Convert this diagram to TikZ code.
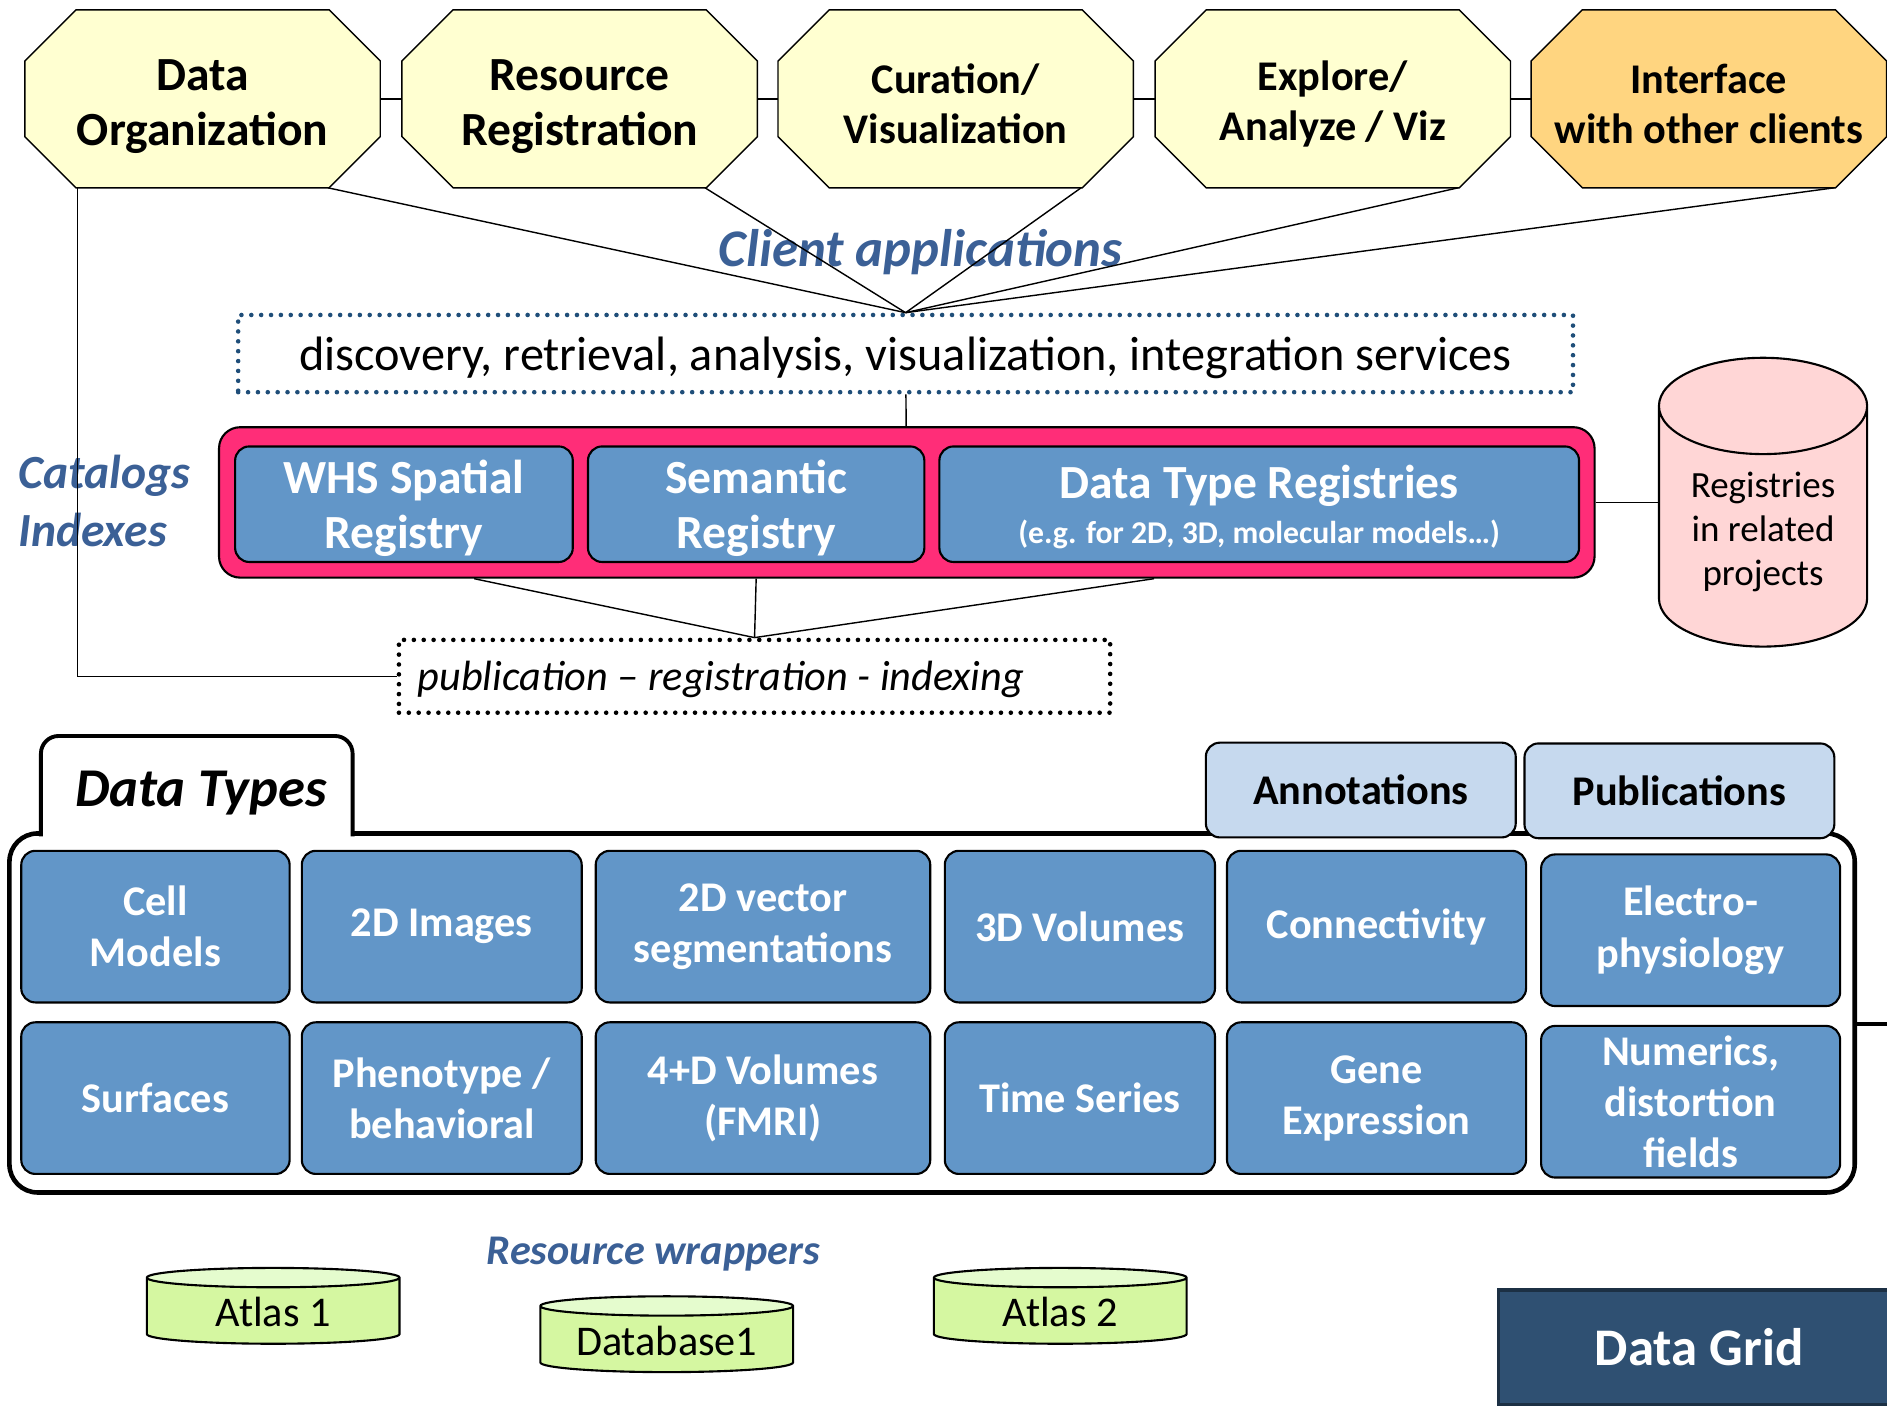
\documentclass[tikz,border=0pt]{standalone}
\usepackage{fontspec}
\setmainfont{Carlito}
\usepackage{tikz}
\usetikzlibrary{positioning,calc,shapes.geometric}
\definecolor{OctYellow}{RGB}{255,255,209}
\definecolor{OctOrange}{RGB}{255,213,128}
\definecolor{LabelBlue}{RGB}{59,96,150}
\definecolor{DotBlue}{RGB}{31,78,121}
\definecolor{CatPink}{RGB}{255,45,120}
\definecolor{RegBlue}{RGB}{98,150,200}
\definecolor{CylPink}{RGB}{255,214,214}
\definecolor{TabBlue}{RGB}{198,217,238}
\definecolor{AtlasGreen}{RGB}{213,247,161}
\definecolor{AtlasTop}{RGB}{229,252,206}
\definecolor{GridNavy}{RGB}{47,80,114}
\tikzset{
	octa/.style={minimum width=3.53cm,minimum height=1.76cm},
	octtext/.style={align=center,font=\bfseries\fontsize{13.5}{15.7}\selectfont},
	octtextb/.style={align=center,font=\bfseries\fontsize{12}{14.3}\selectfont},
	lbl/.style={text=LabelBlue,font=\bfseries\itshape\fontsize{15}{18}\selectfont,inner sep=0pt},
	dotbox/.style={draw,line width=1.3pt,line cap=round,dash pattern=on 0pt off 2.8pt},
	reg/.style={draw,line width=0.6pt,fill=RegBlue,rounded corners=4pt,text=white,align=center,minimum height=1.152cm,text depth=0pt,font=\bfseries\fontsize{13.5}{15.7}\selectfont},
	dtype/.style={draw,line width=0.6pt,fill=RegBlue,rounded corners=4pt,text=white,align=center,minimum height=1.512cm,font=\bfseries\fontsize{12}{14.5}\selectfont},
	tabbox/.style={draw,line width=0.6pt,fill=TabBlue,rounded corners=4pt,minimum width=3.09cm,minimum height=0.945cm,font=\bfseries\fontsize{12}{14.5}\selectfont},
	store/.style={cylinder,shape border rotate=90,aspect=0.085,draw,line width=0.6pt,cylinder uses custom fill,cylinder body fill=AtlasGreen,cylinder end fill=AtlasTop,minimum width=2.52cm,minimum height=0.756cm,inner sep=1pt,text width=2.2cm,align=flush center,font=\fontsize{12}{14}\selectfont}
}
\newcommand{\octshape}[2]{%
	\filldraw[fill=#2] ($(#1.north west)+(0.51,0)$) -- ($(#1.north east)+(-0.51,0)$) -- ($(#1.north east)+(0,-0.51)$) -- ($(#1.south east)+(0,0.51)$) -- ($(#1.south east)+(-0.51,0)$) -- ($(#1.south west)+(0.51,0)$) -- ($(#1.south west)+(0,0.51)$) -- ($(#1.north west)+(0,-0.51)$) -- cycle;}

\begin{document}
\begin{tikzpicture}
	\useasboundingbox (0,0) rectangle (18.816,14.016);
	\node[octa] (dorg) at (2.02,13.03) {};
	\node[octa] (resreg) at (5.78,13.03) {};
	\node[octa] (curvis) at (9.53,13.03) {};
	\node[octa] (explore) at (13.29,13.03) {};
	\node[octa] (iface) at (17.04,13.03) {};
	\octshape{dorg}{OctYellow}
	\octshape{resreg}{OctYellow}
	\octshape{curvis}{OctYellow}
	\octshape{explore}{OctYellow}
	\octshape{iface}{OctOrange}
	\node[octtext] (dorgtxt) at ([yshift=-0.08cm]dorg.center) {Data\\Organization};
	\node[octtext] (resregtxt) at ([yshift=-0.08cm]resreg.center) {Resource\\Registration};
	\node[octtextb] (curvistxt) at ([yshift=-0.05cm]curvis.center) {Curation/\\Visualization};
	\node[octtextb] (exploretxt) at ([yshift=-0.05cm]explore.center) {Explore/\\Analyze / Viz};
	\node[octtextb] (ifacetxt) at ([yshift=-0.05cm]iface.center) {Interface\\with other clients};
	\draw (dorg) -- (resreg);
	\draw (resreg) -- (curvis);
	\draw (curvis) -- (explore);
	\draw (explore) -- (iface);

	\node[lbl] (client) at (9.18,11.5) {Client applications};
	\node[dotbox,draw=DotBlue,minimum width=13.31cm,minimum height=0.77cm,text depth=0pt,font=\fontsize{13.7}{16}\selectfont] (svc) at (9.03,10.49) {discovery, retrieval, analysis, visualization, integration services};
	\foreach \n in {dorg,resreg,curvis,explore,iface}
		\draw ($(\n.south)+(1.25,0)$) -- (svc.north);

	\node[draw,line width=0.6pt,fill=CatPink,rounded corners=6pt,minimum width=13.716cm,minimum height=1.5cm] (catalog) at (9.042,9.006) {};
	\node[reg,minimum width=3.367cm] (whs) at (4.028,8.988) {WHS Spatial\\Registry};
	\node[reg,minimum width=3.354cm] (sem) at (7.54,8.988) {Semantic\\Registry};
	\node[reg,minimum width=6.378cm] (dtr) at (12.556,8.988) {Data Type Registries\\[-3pt]{\fontsize{9}{11}\selectfont (e.g. for 2D, 3D, molecular models…)}};
	\draw (svc) -- (catalog);
	\node[lbl,anchor=west,align=left,font=\bfseries\itshape\fontsize{13.5}{16.7}\selectfont] (catidx) at (0.18,9.02) {Catalogs\\Indexes};

	\node[dotbox,minimum width=7.092cm,minimum height=0.726cm,text width=6.72cm,text depth=0pt,align=flush left,font=\itshape\fontsize{12}{14}\selectfont] (pub) at (7.524,7.272) {publication -- registration - indexing};
	\draw ($(catalog.south)+(-4.314,0)$) -- (pub.north);
	\draw (sem.south |- catalog.south) -- (pub.north);
	\draw ($(catalog.south)+(2.466,0)$) -- (pub.north);
	\draw ($(dorg.south)+(-1.25,0)$) |- (pub.west);

	\node[cylinder,shape border rotate=90,aspect=4.1,draw,line width=0.6pt,fill=CylPink,minimum width=2.076cm,minimum height=2.88cm] (cyl) at (17.58,8.652) {};
	\node[font=\fontsize{10.5}{12.6}\selectfont,align=center] (cyltext) at ([yshift=0.06cm]cyl.center) {Registries\\in related\\projects};
	\draw (catalog.east) -- (catalog.east -| cyl.west);

	\node[draw,line width=1.3pt,rounded corners=8pt,minimum width=18.4cm,minimum height=3.58cm] (dtframe) at (9.294,3.915) {};
	\draw[line width=1.1pt,rounded corners=5pt,fill=white] (0.408,5.675) -- (0.408,6.677) -- (3.516,6.677) -- (3.516,5.675);
	\node[font=\bfseries\itshape\fontsize{15.5}{18}\selectfont,anchor=west,inner sep=0pt] (dtlabel) at (0.744,6.11) {Data Types};
	\node[tabbox] (annot) at (13.569,6.138) {Annotations};
	\node[tabbox] (publ) at (16.746,6.13) {Publications};

	\node[dtype,minimum width=2.676cm] (cell) at (1.55,4.776) {Cell\\Models};
	\node[dtype,minimum width=2.791cm] (img2d) at (4.405,4.776) {2D Images};
	\node[dtype,minimum width=3.336cm] (vec2d) at (7.608,4.776) {2D vector\\segmentations};
	\node[dtype,minimum width=2.694cm] (vol3d) at (10.768,4.776) {3D Volumes};
	\node[dtype,minimum width=2.982cm] (conn) at (13.726,4.776) {Connectivity};
	\node[dtype,minimum width=2.982cm] (ephys) at (16.858,4.74) {Electro-\\physiology};
	\node[dtype,minimum width=2.676cm] (surf) at (1.55,3.066) {Surfaces};
	\node[dtype,minimum width=2.791cm] (pheno) at (4.405,3.066) {Phenotype /\\behavioral};
	\node[dtype,minimum width=3.336cm] (vol4d) at (7.608,3.066) {4+D Volumes\\(FMRI)};
	\node[dtype,minimum width=2.694cm] (tser) at (10.768,3.066) {Time Series};
	\node[dtype,minimum width=2.982cm] (gene) at (13.726,3.066) {Gene\\Expression};
	\node[dtype,minimum width=2.982cm,inner ysep=0pt] (numer) at (16.858,3.03) {Numerics,\\distortion\\fields};
	\coordinate (gridlink) at (18.9,3.804);
	\draw[line width=1.3pt] (dtframe.east |- gridlink) -- (gridlink);

	\node[store] (atlas1) at (2.724,0.93) {Atlas 1};
	\node[store] (db1) at (6.648,0.647) {Database1};
	\node[store] (atlas2) at (10.572,0.93) {Atlas 2};
	\node[lbl,font=\bfseries\itshape\fontsize{12}{14}\selectfont] (wrap) at (6.516,1.512) {Resource wrappers};
	\node[draw=GridNavy!60!black,fill=GridNavy,line width=1pt,text=white,minimum width=4.008cm,minimum height=1.14cm,font=\bfseries\fontsize{15}{18}\selectfont] (grid) at (16.944,0.582) {Data Grid};
\end{tikzpicture}
\end{document}
